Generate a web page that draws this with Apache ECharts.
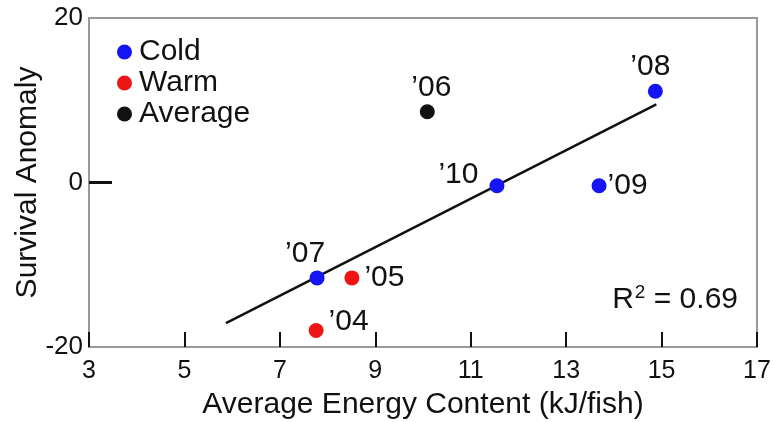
<!DOCTYPE html>
<html>
<head>
<meta charset="utf-8">
<script src="https://cdn.jsdelivr.net/npm/echarts@6/dist/echarts.min.js"></script>
<style>
  html, body { margin: 0; padding: 0; background: #fff; }
  #chart { width: 773px; height: 422px; }
</style>
</head>
<body>
<div id="chart"></div>
<script>
// Energy content vs. survival anomaly, grouped by ocean condition
const coldYears = ['\u201908', '\u201910', '\u201909', '\u201907'];
const coldEnergy = [14.87, 11.55, 13.69, 7.78];
const coldSurvival = [11.1, -0.4, -0.4, -11.6];

const warmYears = ['\u201905', '\u201904'];
const warmEnergy = [8.51, 7.76];
const warmSurvival = [-11.6, -18.0];

const avgYears = ['\u201906'];
const avgEnergy = [10.09];
const avgSurvival = [8.6];

// fitted trend line end points
const fitEnergy = [5.87, 14.89];
const fitSurvival = [-17.1, 9.5];

const xTicks = [3, 5, 7, 9, 11, 13, 15, 17];
const yTicks = [-20, 0, 20];
const rSquared = '0.69';

const FONT = '"Liberation Sans", Arial, Helvetica, sans-serif';
const INK = '#111';

// where each year's tag sits relative to its dot
const labelPlacement = {
  '\u201908': { position: 'top', distance: 2, offset: [-5, 0] },
  '\u201910': { position: 'left', distance: 11, offset: [0, -11] },
  '\u201909': { position: 'right', distance: 1, offset: [0, 0] },
  '\u201907': { position: 'top', distance: 2, offset: [-12, 0] },
  '\u201905': { position: 'right', distance: 5, offset: [0, 0] },
  '\u201904': { position: 'right', distance: 5, offset: [0, -9] },
  '\u201906': { position: 'top', distance: 2, offset: [4, 0] }
};

function points(xs, ys, years) {
  return xs.map((x, i) => ({
    value: [x, ys[i]],
    label: Object.assign({ show: true, formatter: years[i] }, labelPlacement[years[i]])
  }));
}

function groupSeries(name, color, xs, ys, years) {
  return {
    name: name,
    type: 'scatter',
    symbol: 'circle',
    symbolSize: 15,
    itemStyle: { color: color, opacity: 1 },
    label: { fontFamily: FONT, fontSize: 30, color: INK, opacity: 1 },
    emphasis: { disabled: true },
    data: points(xs, ys, years),
    z: 3
  };
}

const chart = echarts.init(document.getElementById('chart'), null, { renderer: 'canvas' });

chart.setOption({
  animation: false,
  backgroundColor: '#fff',
  grid: {
    left: 89, right: 16, top: 18, bottom: 75,
    containLabel: false,
    outerBoundsMode: 'none',
    show: true, borderColor: '#999', borderWidth: 2
  },
  legend: {
    left: 112, top: 32,
    orient: 'vertical',
    icon: 'circle',
    itemWidth: 15, itemHeight: 15,
    itemGap: 1,
    itemStyle: { opacity: 1 },
    textStyle: { fontFamily: FONT, fontSize: 30, color: INK, padding: [0, 0, 0, 2] },
    data: ['Cold', 'Warm', 'Average']
  },
  xAxis: {
    type: 'value',
    min: xTicks[0], max: xTicks[xTicks.length - 1], interval: 2,
    name: 'Average Energy Content (kJ/fish)',
    nameLocation: 'middle', nameGap: 43,
    nameMoveOverlap: false,
    nameTextStyle: { fontFamily: FONT, fontSize: 30, color: INK },
    axisLine: { onZero: false, lineStyle: { color: '#999', width: 2 } },
    axisTick: { inside: true, length: 15, lineStyle: { color: INK, width: 2 } },
    axisLabel: { fontFamily: FONT, fontSize: 25, color: INK, margin: 12 },
    splitLine: { show: false }
  },
  yAxis: {
    type: 'value',
    min: yTicks[0], max: yTicks[yTicks.length - 1], interval: 20,
    name: 'Survival Anomaly',
    nameLocation: 'middle', nameGap: 46,
    nameMoveOverlap: false,
    nameTextStyle: { fontFamily: FONT, fontSize: 30, color: INK },
    axisLine: { onZero: false, lineStyle: { color: '#999', width: 2 } },
    axisTick: { show: true, inside: true, length: 23, customValues: [0], lineStyle: { color: INK, width: 3 } },
    axisLabel: { fontFamily: FONT, fontSize: 26, color: INK, margin: 6 },
    splitLine: { show: false }
  },
  graphic: [{
    type: 'text',
    right: 35, top: 283,
    style: {
      text: '{r|R}{s|2}{r| = ' + rSquared + '}',
      rich: {
        r: { fontFamily: FONT, fontSize: 30, fill: INK, verticalAlign: 'bottom' },
        s: { fontFamily: FONT, fontSize: 19, fill: INK, padding: [0, 0, 13, 1], verticalAlign: 'bottom' }
      }
    }
  }],
  series: [
    {
      name: 'fit',
      type: 'line',
      data: fitEnergy.map((x, i) => [x, fitSurvival[i]]),
      symbol: 'none',
      lineStyle: { color: INK, width: 2.5 },
      z: 2,
      silent: true
    },
    groupSeries('Cold', '#1414f5', coldEnergy, coldSurvival, coldYears),
    groupSeries('Warm', '#ee1515', warmEnergy, warmSurvival, warmYears),
    groupSeries('Average', '#111111', avgEnergy, avgSurvival, avgYears)
  ]
});
</script>
</body>
</html>
